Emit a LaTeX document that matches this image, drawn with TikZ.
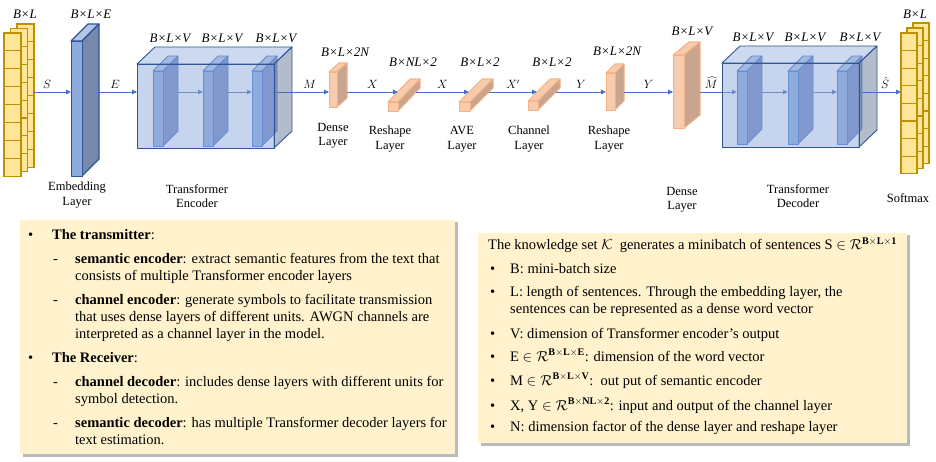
\documentclass[tikz,border=0pt]{standalone}
\usepackage{fontspec}
\setmainfont{Liberation Serif}
\usetikzlibrary{arrows.meta,shadows}

\definecolor{bluel}{HTML}{8FAADC}
\definecolor{bluet}{HTML}{B4C7E7}
\definecolor{blued}{HTML}{2F5597}
\definecolor{bluem}{HTML}{4472C4}
\definecolor{blueside}{HTML}{7888AA}
\definecolor{slbside}{HTML}{7388C0}
\definecolor{tfmside}{HTML}{7F8FA9}
\definecolor{orfront}{HTML}{F8CBAD}
\definecolor{orside}{HTML}{C9A590}
\definecolor{oredge}{HTML}{F4B183}
\definecolor{yelfill}{HTML}{FFE699}
\definecolor{yeledge}{HTML}{BF9000}
\definecolor{notefill}{HTML}{FFF2CC}

% name, x, y, width, height, depth x, depth y, style family
\newcommand{\layerbox}[8]{%
  \draw[#8,#8T] (#2,#3) -- ++(#6,-#7) -- ++(#4,0) -- ++(-#6,#7) -- cycle;
  \draw[#8,#8S] (#2+#4,#3) -- ++(#6,-#7) -- ++(0,#5) -- ++(-#6,#7) -- cycle;
  \node[#8,#8F,anchor=north west,inner sep=0,minimum width=#4pt,minimum height=#5pt] (#1) at (#2,#3) {};
  \coordinate (#1-i) at (#2,92);
  \coordinate (#1-o) at (#2+#4+#6,92);
}
\newcommand{\dimtxt}[1]{{\itshape #1}}

\tikzset{
  arr/.style={-{Triangle[length=5pt,width=4.5pt]}, draw=bluem, line width=0.9pt},
  lbl/.style={above=2pt, font=\fontsize{12}{14}\selectfont, inner sep=1pt},
  dimlbl/.style={font=\fontsize{13}{15}\selectfont, inner sep=0},
  lyrcap/.style={font=\fontsize{12.5}{14.5}\selectfont, align=center, inner sep=0},
  cell/.style={draw=yeledge, fill=yelfill, line width=1.1pt},
  emb/.style={draw=blued, line width=1.1pt, line join=round},
  embF/.style={fill=bluel}, embT/.style={fill=bluet}, embS/.style={fill=blueside},
  slb/.style={draw=bluem, line width=0.9pt, line join=round},
  slbF/.style={fill=bluel}, slbT/.style={fill=bluet}, slbS/.style={fill=slbside},
  tfm/.style={draw=blued, line width=0.9pt, line join=round},
  tfmF/.style={fill=bluel, fill opacity=0.5}, tfmT/.style={fill=bluel, fill opacity=0.45},
  tfmS/.style={fill=tfmside, fill opacity=0.6},
  ora/.style={draw=oredge, line width=1pt, line join=round},
  oraF/.style={fill=orfront}, oraT/.style={fill=orfront}, oraS/.style={fill=orside},
  notebox/.style={fill=notefill, drop shadow={shadow xshift=2.5pt, shadow yshift=-2.5pt, fill=black!45, opacity=0.6}},
  txt/.style={anchor=base west, inner sep=0, font=\fontsize{14.5}{16}\selectfont},
}

\begin{document}
\begin{tikzpicture}[x=1pt,y=-1pt]
\useasboundingbox (0,0) rectangle (936,462);

% input sentences
\foreach \col in {2,1,0}
  \foreach \row in {0,...,7}
    \draw[cell] (4+6.5*\col,33-4.5*\col+17.9*\row) rectangle ++(17,17.9);
\coordinate (src-o) at (33,92);

% embedding and transformer encoder
\layerbox{emb}{71}{41}{11}{135}{17}{17}{emb}
\layerbox{es1}{153}{71}{10}{75}{15}{15}{slb}
\layerbox{es2}{203}{71}{10}{75}{15}{15}{slb}
\layerbox{es3}{252}{71}{10}{75}{15}{15}{slb}
\draw[arr] (es1-o) -- (es2-i);
\draw[arr] (es2-o) -- (es3-i);
\layerbox{enc}{137}{64}{137}{84}{18}{17}{tfm}

% channel part
\layerbox{dn1}{329}{72}{8}{35}{10}{9}{ora}
\layerbox{rs1}{388}{102}{10}{9}{22}{23}{ora}
\coordinate (rs1-i) at (398,92);
\coordinate (rs1-o) at (416,92);
\layerbox{ave}{459}{102}{11}{9}{23}{23}{ora}
\coordinate (ave-i) at (469,92);
\coordinate (ave-o) at (489,92);
\layerbox{chn}{528}{101}{10}{9}{22}{22}{ora}
\coordinate (chn-i) at (537,92);
\coordinate (chn-o) at (556,92);
\layerbox{rs2}{606}{73}{9}{37}{9}{9}{ora}
\layerbox{dn2}{673}{55}{11}{73}{16}{13}{ora}

% transformer decoder
\layerbox{ds1}{737}{71}{10}{73}{15}{15}{slb}
\layerbox{ds2}{788}{71}{10}{73}{15}{15}{slb}
\layerbox{ds3}{837}{71}{10}{73}{15}{15}{slb}
\draw[arr] (ds1-o) -- (ds2-i);
\draw[arr] (ds2-o) -- (ds3-i);
\draw[arr] (dn2-o) -- node[lbl,pos=0.3]{$\widehat{M}$} (ds1-i);
\layerbox{dec}{722}{63}{137}{84}{18}{17}{tfm}

% output sentences
\foreach \col in {2,1,0}
  \foreach \row in {0,...,7}
    \draw[cell] (901+6*\col,33-5*\col+17.6*\row) rectangle ++(16,17.6);
\coordinate (out-i) at (901,92);

\draw[arr] (src-o) -- node[lbl,pos=0.37]{$S$} (emb-i);
\draw[arr] (emb-o) -- node[lbl,pos=0.42]{$E$} (enc-i);
\draw[arr] (es3-o) -- node[lbl,pos=0.63]{$M$} (dn1-i);
\draw[arr] (dn1-o) -- node[lbl]{$X$} (rs1-i);
\draw[arr] (rs1-o) -- node[lbl]{$X$} (ave-i);
\draw[arr] (ave-o) -- node[lbl]{$X'$} (chn-i);
\draw[arr] (chn-o) -- node[lbl]{$Y$} (rs2-i);
\draw[arr] (rs2-o) -- node[lbl]{$Y$} (dn2-i);
\draw[arr] (ds3-o) -- node[lbl,pos=0.59]{$\hat{S}$} (out-i);

% sizes
\node[dimlbl] (d-src) at (25,14) {\dimtxt{B×L}};
\node[dimlbl] (d-emb) at (91,14) {\dimtxt{B×L×E}};
\node[dimlbl] (d-es1) at (170,38) {\dimtxt{B×L×V}};
\node[dimlbl] (d-es2) at (222,38) {\dimtxt{B×L×V}};
\node[dimlbl] (d-es3) at (276,38) {\dimtxt{B×L×V}};
\node[dimlbl] (d-dn1) at (345,52) {\dimtxt{B×L×2N}};
\node[dimlbl] (d-rs1) at (413,62) {\dimtxt{B×NL×2}};
\node[dimlbl] (d-ave) at (480,62) {\dimtxt{B×L×2}};
\node[dimlbl] (d-chn) at (552,62) {\dimtxt{B×L×2}};
\node[dimlbl] (d-rs2) at (617,51) {\dimtxt{B×L×2N}};
\node[dimlbl] (d-dn2) at (692,31) {\dimtxt{B×L×V}};
\node[dimlbl] (d-ds1) at (753,37) {\dimtxt{B×L×V}};
\node[dimlbl] (d-ds2) at (805,37) {\dimtxt{B×L×V}};
\node[dimlbl] (d-ds3) at (860,37) {\dimtxt{B×L×V}};
\node[dimlbl] (d-out) at (915,14) {\dimtxt{B×L}};

% captions
\node[lyrcap] (c-emb) at (77,195) {Embedding\\Layer};
\node[lyrcap] (c-enc) at (197,196) {Transformer\\Encoder};
\node[lyrcap] (c-dn1) at (333,136) {Dense\\Layer};
\node[lyrcap] (c-rs1) at (390,139) {Reshape\\Layer};
\node[lyrcap] (c-ave) at (462,139) {AVE\\Layer};
\node[lyrcap] (c-chn) at (529,139) {Channel\\Layer};
\node[lyrcap] (c-rs2) at (609,139) {Reshape\\Layer};
\node[lyrcap] (c-dn2) at (682,200) {Dense\\Layer};
\node[lyrcap] (c-dec) at (798,196) {Transformer\\Decoder};
\node[lyrcap] (c-out) at (908,198) {Softmax};

% transmitter / receiver note
\fill[notebox] (20,220) rectangle (455,454);
\node[txt] (b1) at (28,240) {•};
\node[txt] (t1) at (52,240) {\textbf{The transmitter}:};
\node[txt] (m1) at (53,263) {-};
\node[txt] (t2) at (75,263) {\textbf{semantic encoder}: extract semantic features from the text that};
\node[txt] (t3) at (75,280.5) {consists of multiple Transformer encoder layers};
\node[txt] (m2) at (53,304) {-};
\node[txt] (t4) at (75,304) {\textbf{channel encoder}: generate symbols to facilitate transmission};
\node[txt] (t5) at (75,321) {that uses dense layers of different units. AWGN channels are};
\node[txt] (t6) at (75,338) {interpreted as a channel layer in the model.};
\node[txt] (b2) at (28,362) {•};
\node[txt] (t7) at (52,362) {\textbf{The Receiver}:};
\node[txt] (m3) at (53,386) {-};
\node[txt] (t8) at (75,386) {\textbf{channel decoder}: includes dense layers with different units for};
\node[txt] (t9) at (75,403) {symbol detection.};
\node[txt] (m4) at (53,427) {-};
\node[txt] (t10) at (75,427) {\textbf{semantic decoder}: has multiple Transformer decoder layers for};
\node[txt] (t11) at (75,444) {text estimation.};

% notation note
\fill[notebox] (478,233) rectangle (907,443);
\node[txt] (k0) at (488,250) {The knowledge set $\mathcal{K}$\ \ generates a minibatch of sentences S $\in\mathcal{R}^{\mathbf{B\times L\times 1}}$};
\node[txt] (p1) at (490,273) {•};
\node[txt] (k1) at (510,273) {B: mini-batch size};
\node[txt] (p2) at (490,296) {•};
\node[txt] (k2) at (510,296) {L: length of sentences. Through the embedding layer, the};
\node[txt] (k3) at (510,313) {sentences can be represented as a dense word vector};
\node[txt] (p3) at (490,338) {•};
\node[txt] (k4) at (510,338) {V: dimension of Transformer encoder’s output};
\node[txt] (p4) at (490,361) {•};
\node[txt] (k5) at (510,361) {E $\in\mathcal{R}^{\mathbf{B\times L\times E}}$: dimension of the word vector};
\node[txt] (p5) at (490,385) {•};
\node[txt] (k6) at (510,385) {M $\in\mathcal{R}^{\mathbf{B\times L\times V}}$:\ \ out put of semantic encoder};
\node[txt] (p6) at (490,410) {•};
\node[txt] (k7) at (510,410) {X, Y $\in\mathcal{R}^{\mathbf{B\times NL\times 2}}$: input and output of the channel layer};
\node[txt] (p7) at (490,431) {•};
\node[txt] (k8) at (510,431) {N: dimension factor of the dense layer and reshape layer};
\end{tikzpicture}
\end{document}
